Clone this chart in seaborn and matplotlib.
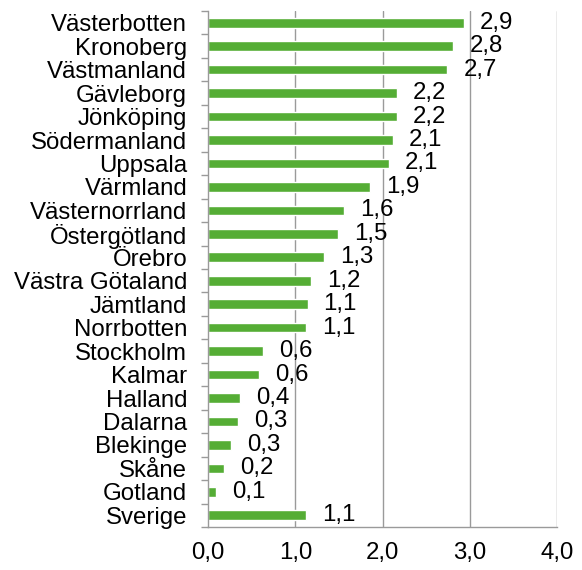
import numpy as np
import matplotlib
matplotlib.use("Agg")
import matplotlib.pyplot as plt
import seaborn as sns
from matplotlib.ticker import FixedLocator, FuncFormatter

# Data
counties = ["Västerbotten", "Kronoberg", "Västmanland", "Gävleborg", "Jönköping",
            "Södermanland", "Uppsala", "Värmland", "Västernorrland", "Östergötland",
            "Örebro", "Västra Götaland", "Jämtland", "Norrbotten", "Stockholm",
            "Kalmar", "Halland", "Dalarna", "Blekinge", "Skåne", "Gotland", "Sverige"]
values = [2.93, 2.81, 2.74, 2.16, 2.16, 2.12, 2.07, 1.86, 1.56, 1.49,
          1.33, 1.18, 1.14, 1.12, 0.63, 0.58, 0.37, 0.34, 0.26, 0.18, 0.09, 1.12]
x_ticks = [0, 1, 2, 3, 4]

sns.set_style("white")
plt.rcParams["font.family"] = ["Liberation Sans", "DejaVu Sans"]
plt.rcParams["text.color"] = "black"
plt.rcParams["xtick.labelcolor"] = "black"
plt.rcParams["ytick.labelcolor"] = "black"

fs = 17.3
fig = plt.figure(figsize=(5.82, 5.70), dpi=100)
ax = fig.add_axes([0.3574, 0.0754, 0.6002, 0.9053])

grid_col = "#9a9a9a"
for t in x_ticks[1:]:
    ax.axvline(t, color=grid_col, lw=1.0, zorder=0)

sns.barplot(x=values, y=counties, color="#55AD35", width=0.41,
            saturation=1, ax=ax, zorder=2)

# value labels, rounded to one decimal with comma
labels = [f"{v:.1f}".replace(".", ",") for v in values]
ax.bar_label(ax.containers[0], labels=labels, padding=11.5, fontsize=fs,
             color="black")

ax.set_xlim(0, 4)
ax.set_ylim(len(counties) - 0.5, -0.5)
ax.set_xlabel("")
ax.set_ylabel("")

ax.xaxis.set_major_locator(FixedLocator(x_ticks))
ax.xaxis.set_major_formatter(FuncFormatter(lambda v, p: f"{v:.1f}".replace(".", ",")))
ax.tick_params(axis="x", which="major", length=5, width=1, color=grid_col,
               direction="out", pad=6, labelsize=fs, labelcolor="black")

ax.yaxis.set_minor_locator(FixedLocator(np.arange(-0.5, len(counties), 1.0)))
ax.tick_params(axis="y", which="major", length=0, pad=15, labelsize=fs,
               labelcolor="black")
ax.tick_params(axis="y", which="minor", length=5, width=1, color=grid_col,
               direction="out", left=True)

for side in ["top", "right"]:
    ax.spines[side].set_visible(False)
for side in ["left", "bottom"]:
    ax.spines[side].set_color(grid_col)
    ax.spines[side].set_linewidth(1.0)

fig.savefig("out.png", dpi=100)
